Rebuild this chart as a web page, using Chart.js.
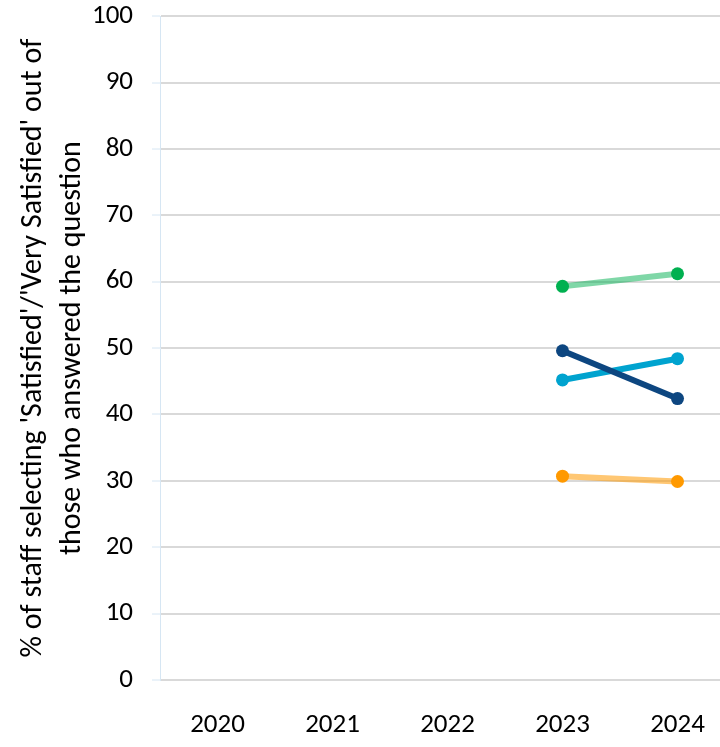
<!DOCTYPE html>
<html>
<head>
<meta charset="utf-8">
<script src="https://cdn.jsdelivr.net/npm/chart.js@4"></script>
<style>
  html, body { margin: 0; padding: 0; background: #fff; overflow: hidden; }
  #wrap { width: 720px; height: 747px; overflow: hidden; }
  #satChart { display: block; margin-top: -19px; }
</style>
</head>
<body>
<div id="wrap"><canvas id="satChart" width="760" height="766"></canvas></div>
<script>
// categories and values
const years = ['2020', '2021', '2022', '2023', '2024'];
const greenSeries = [null, null, null, 59.3, 61.2];
const darkBlueSeries = [null, null, null, 49.6, 42.4];
const lightBlueSeries = [null, null, null, 45.2, 48.4];
const orangeSeries = [null, null, null, 30.7, 29.9];
const yTitle = ["% of staff selecting 'Satisfied'/'Very Satisfied' out of", 'those who answered the question'];

const fontFamily = 'Carlito, Lato, "Liberation Sans", sans-serif';

function series(data, lineColor, pointColor) {
    return {
        data: data,
        borderColor: lineColor,
        backgroundColor: pointColor,
        pointBackgroundColor: pointColor,
        pointBorderColor: pointColor,
        borderWidth: 6,
        pointRadius: 6.5,
        pointBorderWidth: 0,
        spanGaps: false,
        fill: false,
        tension: 0
    };
}

const canvas = document.getElementById('satChart');

new Chart(canvas, {
    type: 'line',
    data: {
        labels: years,
        datasets: [
            series(greenSeries, 'rgba(0, 176, 80, 0.5)', '#00b050'),
            series(darkBlueSeries, '#0d4680', '#0d4680'),
            series(lightBlueSeries, '#00a3cf', '#00a3cf'),
            series(orangeSeries, 'rgba(255, 153, 0, 0.55)', '#ff9900')
        ]
    },
    options: {
        responsive: false,
        animation: false,
        devicePixelRatio: 1,
        layout: { padding: { top: 0, right: 25, left: 0, bottom: 0 } },
        plugins: {
            legend: { display: false },
            tooltip: { enabled: false }
        },
        scales: {
            x: {
                offset: true,
                grid: { display: false },
                border: { display: false },
                ticks: {
                    color: '#000',
                    padding: 21,
                    maxRotation: 0,
                    font: { family: fontFamily, size: 27 }
                },
                afterFit: function(scale) { scale.height = 67; }
            },
            y: {
                min: 0,
                max: 100,
                border: { display: true, color: '#d6e6f3', width: 1 },
                grid: {
                    color: '#d9d9d9',
                    lineWidth: 2,
                    tickColor: '#d6e6f3',
                    tickWidth: 1,
                    tickLength: 8
                },
                ticks: {
                    stepSize: 10,
                    color: '#000',
                    padding: 19,
                    font: { family: fontFamily, size: 27 }
                },
                title: {
                    display: true,
                    text: yTitle,
                    color: '#000',
                    padding: { top: 14, bottom: 0 },
                    font: { family: fontFamily, size: 30, lineHeight: 1.3 }
                },
                afterFit: function(scale) { scale.width = 160; }
            }
        }
    }
});
</script>
</body>
</html>
